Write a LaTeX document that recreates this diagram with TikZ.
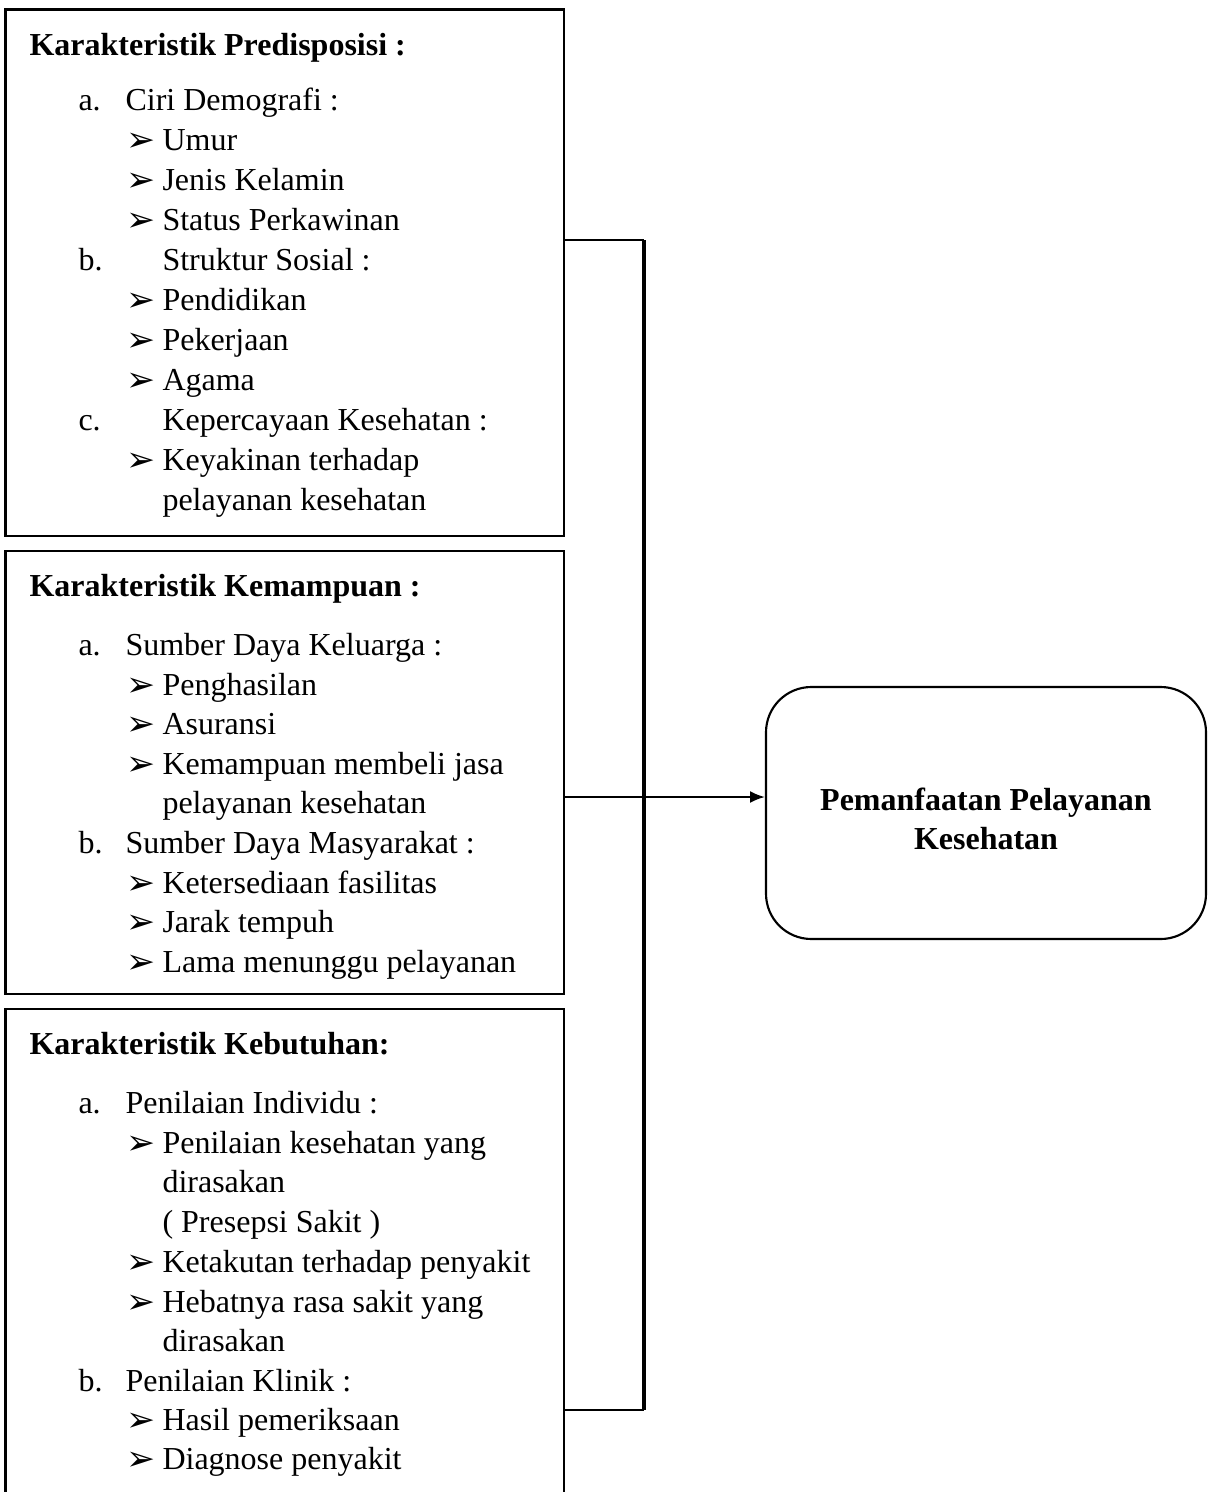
\documentclass[tikz,border=0pt]{standalone}
\usepackage{fontspec}
\setmainfont{Liberation Serif}
\newfontfamily\dingfont{DejaVu Sans}
\usetikzlibrary{positioning,arrows.meta,fit}
\newcommand\bodysize{\fontsize{12}{14.4}\selectfont}

\tikzset{
  framebox/.style={draw, line width=1.1pt, inner sep=0pt},
  outbox/.style={draw, line width=0.8pt, rounded corners=17pt, inner sep=0pt},
  headtext/.style={anchor=base west, inner sep=0pt, font=\bodysize\bfseries},
  itemtext/.style={anchor=base west, inner sep=0pt, font=\bodysize},
  bullet/.style={anchor=base west, inner sep=0pt, font=\dingfont\fontsize{13}{14}\selectfont},
  link/.style={line width=0.8pt},
  trunk/.style={line width=1.5pt},
}

\begin{document}
\begin{tikzpicture}[x=0.375pt,y=-0.375pt]
    \clip (0,0) rectangle (1209,1492);
    % predisposisi
    \node[framebox, fit={(5.5,9.5) (564,536)}] (pre) {};
    \node[headtext] (pre-h) at (29,55) {Karakteristik Predisposisi :};
    \foreach \y/\l/\x/\t [count=\i] in {100/a./125/Ciri Demografi :, 260/b./162/Struktur Sosial :, 420/c./162/Kepercayaan Kesehatan :}{
      \node[itemtext] (pre-l\i) at (78,\y+10) {\l};
      \node[itemtext] (pre-s\i) at (\x,\y+10) {\t};}
    \foreach \y/\t [count=\i] in {140/Umur, 180/Jenis Kelamin, 220/Status Perkawinan, 300/Pendidikan, 340/Pekerjaan, 380/Agama, 460/Keyakinan terhadap}{
      \node[bullet] (pre-b\i) at (126,\y+11) {➢};
      \node[itemtext] (pre-t\i) at (162,\y+10) {\t};}
    \node[itemtext] (pre-c1) at (162,510) {pelayanan kesehatan};
    % kemampuan
    \node[framebox, fit={(5.5,551) (564,994)}] (kem) {};
    \node[headtext] (kem-h) at (29,596) {Karakteristik Kemampuan :};
    \foreach \y/\l/\t [count=\i] in {645/a./Sumber Daya Keluarga :, 843/b./Sumber Daya Masyarakat :}{
      \node[itemtext] (kem-l\i) at (78,\y+10) {\l};
      \node[itemtext] (kem-s\i) at (125,\y+10) {\t};}
    \foreach \y/\t [count=\i] in {685/Penghasilan, 724/Asuransi, 764/Kemampuan membeli jasa, 883/Ketersediaan fasilitas, 922/Jarak tempuh, 962/Lama menunggu pelayanan}{
      \node[bullet] (kem-b\i) at (126,\y+11) {➢};
      \node[itemtext] (kem-t\i) at (162,\y+10) {\t};}
    \node[itemtext] (kem-c1) at (162,813) {pelayanan kesehatan};
    % kebutuhan
    \node[framebox, fit={(5.5,1009) (564,1530)}] (keb) {};
    \node[headtext] (keb-h) at (29,1054) {Karakteristik Kebutuhan:};
    \foreach \y/\l/\t [count=\i] in {1103/a./Penilaian Individu :, 1381/b./Penilaian Klinik :}{
      \node[itemtext] (keb-l\i) at (78,\y+10) {\l};
      \node[itemtext] (keb-s\i) at (125,\y+10) {\t};}
    \foreach \y/\t [count=\i] in {1143/Penilaian kesehatan yang, 1262/Ketakutan terhadap penyakit, 1302/Hebatnya rasa sakit yang, 1420/Hasil pemeriksaan, 1459/Diagnose penyakit}{
      \node[bullet] (keb-b\i) at (126,\y+11) {➢};
      \node[itemtext] (keb-t\i) at (162,\y+10) {\t};}
    \foreach \y/\t [count=\i] in {1182/dirasakan, 1222/( Presepsi Sakit ), 1341/dirasakan}{
      \node[itemtext] (keb-c\i) at (162,\y+10) {\t};}
    % hasil
    \node[outbox, fit={(766,687) (1206,939)}] (out) {};
    \node[font=\bodysize\bfseries, align=center, inner sep=0pt] (out-t) at (986,819) {Pemanfaatan Pelayanan\\Kesehatan};
    % garis penghubung
    \coordinate (jtop) at (644,240);
    \coordinate (jmid) at (644,797);
    \coordinate (jbot) at (644,1410);
    \draw[link] (pre.east |- jtop) -- (jtop);
    \draw[link] (keb.east |- jbot) -- (jbot);
    \draw[trunk] (jtop) -- (jbot);
    \draw[link,-{Latex[length=5.6pt,width=4.5pt]}] (kem.east |- jmid) -- (out.west |- jmid);
\end{tikzpicture}
\end{document}
